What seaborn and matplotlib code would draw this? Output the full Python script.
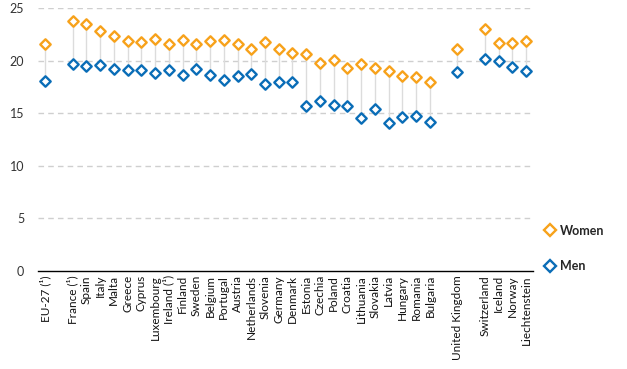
import numpy as np
import pandas as pd
import matplotlib
matplotlib.use("Agg")
import matplotlib.pyplot as plt
from matplotlib.lines import Line2D
import seaborn as sns

# ---- data (empty strings are spacer slots) ----
categories = ["EU-27 (¹)", "", "France (¹)", "Spain", "Italy", "Malta", "Greece", "Cyprus",
              "Luxembourg", "Ireland (¹)", "Finland", "Sweden", "Belgium", "Portugal",
              "Austria", "Netherlands", "Slovenia", "Germany", "Denmark", "Estonia",
              "Czechia", "Poland", "Croatia", "Lithuania", "Slovakia", "Latvia",
              "Hungary", "Romania", "Bulgaria", "", "United Kingdom", "",
              "Switzerland", "Iceland", "Norway", "Liechtenstein"]
women = [21.6, None, 23.8, 23.5, 22.8, 22.3, 21.9, 21.8, 22.1, 21.6, 22.0, 21.6, 21.9, 22.0,
         21.6, 21.1, 21.8, 21.1, 20.7, 20.6, 19.8, 20.1, 19.3, 19.7, 19.3, 19.0,
         18.5, 18.4, 18.0, None, 21.1, None, 23.0, 21.7, 21.7, 21.9]
men = [18.1, None, 19.7, 19.5, 19.6, 19.2, 19.1, 19.1, 18.8, 19.1, 18.6, 19.2, 18.6, 18.2,
       18.5, 18.7, 17.8, 18.0, 18.0, 15.7, 16.2, 15.8, 15.7, 14.5, 15.4, 14.1,
       14.6, 14.7, 14.2, None, 18.9, None, 20.2, 20.0, 19.4, 19.0]
yticks = [0, 5, 10, 15, 20, 25]
series_labels = ["Women", "Men"]

ORANGE = "#F7A21B"
BLUE = "#0A6DB7"

sns.set_style("white")
plt.rcParams["font.family"] = ["Lato", "DejaVu Sans"]

pos = np.arange(len(categories))
df = pd.DataFrame({"pos": pos, "cat": categories,
                   "Women": pd.to_numeric(pd.Series(women), errors="coerce"),
                   "Men": pd.to_numeric(pd.Series(men), errors="coerce")})
valid = df.dropna(subset=["Women", "Men"])

fig = plt.figure(figsize=(6.27, 3.69), dpi=100)
ax = fig.add_axes([0.061, 0.266, 0.789, 0.712])

# grid lines
for y in yticks[1:]:
    ax.axhline(y, color="#cfcfcf", lw=1.0, ls=(0, (4, 3)), zorder=0)

# connecting lines
ax.vlines(valid["pos"], valid["Men"], valid["Women"], color="#dcdcdc", lw=1.0, zorder=1)

for name, col in zip(series_labels, [ORANGE, BLUE]):
    sns.scatterplot(data=valid, x="pos", y=name, marker="D", s=28, color=col,
                    linewidth=1.7, ax=ax, zorder=3, legend=False)
for coll, col in zip(ax.collections[-2:], [ORANGE, BLUE]):
    coll.set_facecolor("white")
    coll.set_edgecolor(col)

ax.set_xlim(-0.5, len(categories) - 0.5)
ax.set_ylim(0, 25)
ax.set_yticks(yticks)
ax.set_yticklabels([str(v) for v in yticks], fontsize=9, color="#333333")
ax.tick_params(axis="y", length=0, pad=10)

ax.set_xticks(pos)
ax.set_xticklabels(categories, rotation=90, fontsize=8.5, color="#111111")
ax.set_xticks(np.arange(len(categories) + 1) - 0.5, minor=True)
ax.tick_params(axis="x", which="major", length=0, pad=3)
ax.tick_params(axis="x", which="minor", length=5, width=1, color="black", direction="out")
ax.set_xlabel("")
ax.set_ylabel("")

for s in ["left", "right", "top"]:
    ax.spines[s].set_visible(False)
ax.spines["bottom"].set_color("black")
ax.spines["bottom"].set_linewidth(1.0)

handles = [Line2D([], [], marker="D", ls="", markersize=6, markerfacecolor="white",
                  markeredgecolor=c, markeredgewidth=1.7) for c in [ORANGE, BLUE]]
leg = fig.legend(handles, series_labels, loc="upper left", bbox_to_anchor=(0.849, 0.422),
                 frameon=False, labelspacing=1.9, handletextpad=0.3, handlelength=1.0,
                 prop={"weight": "bold", "size": 9})

fig.savefig("out.png", dpi=100)
